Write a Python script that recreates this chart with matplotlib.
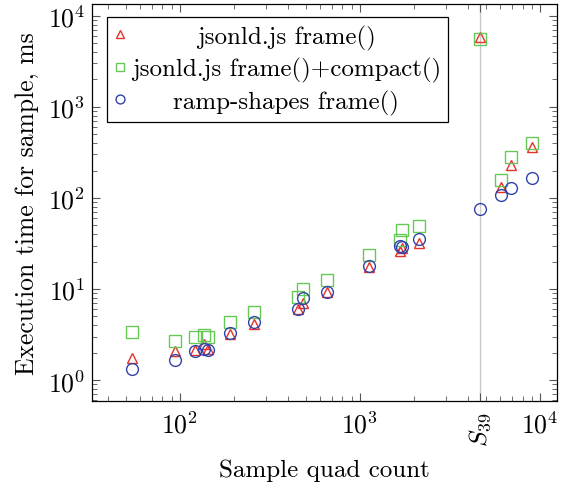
import matplotlib
matplotlib.use("Agg")
import matplotlib.pyplot as plt
from matplotlib.ticker import FixedLocator, FixedFormatter, LogLocator, NullFormatter

plt.rcParams['font.family'] = ['cmr10']
plt.rcParams['mathtext.fontset'] = 'cm'
plt.rcParams['axes.unicode_minus'] = False
plt.rcParams['axes.formatter.use_mathtext'] = True

# sample quad counts
quads = [54, 94, 122, 137, 144, 190, 259, 451, 484, 661, 1128, 1668, 1710, 2136,
         4640, 6050, 6900, 9030]
# execution times, ms
frame_ms = [1.75, 2.09, 2.14, 2.5, 2.22, 3.18, 4.17, 6.07, 7.07, 9.4, 17.5, 25.9, 28.2, 32.0,
            5800, 131, 231, 364]
frame_compact_ms = [3.37, 2.67, 3.0, 3.1, 3.0, 4.38, 5.63, 8.2, 9.9, 12.7, 23.6, 34.2, 44.7, 49.4,
                    5600, 157, 283, 396]
ramp_ms = [1.34, 1.67, 2.09, 2.18, 2.14, 3.32, 4.34, 6.07, 7.94, 9.4, 17.7, 29.4, 28.6, 35.4,
           75.2, 108, 128, 164]

s39 = 4640
xtick_vals = [100, 1000, s39, 10000]
xtick_labels = [r'$10^2$', r'$10^3$', r'$S_{39}$', r'$10^4$']

fig = plt.figure(figsize=(5.67, 4.85), dpi=100)
ax = fig.add_axes([0.162, 0.171, 0.820, 0.819])

ax.axvline(s39, color='#c8c8c8', lw=1.0, zorder=0)

red = '#e8302a'
green = '#66c855'
blue = '#3142a8'
ax.plot(quads, frame_ms, linestyle='none', marker='^', ms=7.5, mfc='none', mec=red, mew=1.0,
        label='jsonld.js frame()')
ax.plot(quads, frame_compact_ms, linestyle='none', marker='s', ms=8, mfc='none', mec=green, mew=1.0,
        label='jsonld.js frame()+compact()')
ax.plot(quads, ramp_ms, linestyle='none', marker='o', ms=8.5, mfc='none', mec=blue, mew=1.0,
        label='ramp-shapes frame()')

ax.set_xscale('log')
ax.set_yscale('log')
ax.set_xlim(32.5, 12400)
ax.set_ylim(0.59, 13500)

ax.xaxis.set_major_locator(FixedLocator(xtick_vals))
ax.xaxis.set_major_formatter(FixedFormatter(xtick_labels))
ax.xaxis.set_minor_locator(LogLocator(base=10, subs=range(2, 10), numticks=20))
ax.xaxis.set_minor_formatter(NullFormatter())
ax.yaxis.set_minor_locator(LogLocator(base=10, subs=range(2, 10), numticks=20))
ax.yaxis.set_minor_formatter(NullFormatter())

ax.tick_params(which='both', direction='in', top=True, right=True, color='#555555', labelsize=18.5)
ax.tick_params(which='major', length=6, width=0.8)
ax.tick_params(which='minor', length=3.5, width=0.6)
ax.tick_params(axis='x', which='major', pad=7)
ax.tick_params(axis='y', which='major', pad=5)
for lbl in ax.get_xticklabels():
    if 'S' in lbl.get_text():
        lbl.set_rotation(90)
        lbl.set_va('top')

for sp in ax.spines.values():
    sp.set_linewidth(0.9)

ax.set_xlabel('Sample quad count', fontsize=18)
ax.xaxis.set_label_coords(0.5, -0.145)
ax.set_ylabel('Execution time for sample, ms', fontsize=18.5, labelpad=6)

leg = ax.legend(loc='upper left', bbox_to_anchor=(0.032, 0.967), borderaxespad=0,
                fancybox=False, edgecolor='black', framealpha=1, fontsize=18,
                markerscale=0.75, handlelength=0.5, handletextpad=0.2,
                borderpad=0.3, labelspacing=0.3)
leg.get_frame().set_linewidth(0.9)

# centre the legend entries like the original
fig.canvas.draw()
renderer = fig.canvas.get_renderer()
texts = leg.get_texts()
widths = [t.get_window_extent(renderer).width for t in texts]
wmax = max(widths)
for t, w in zip(texts, widths):
    t.set_x((wmax - w) / 2)

fig.savefig('out.png', dpi=100)
